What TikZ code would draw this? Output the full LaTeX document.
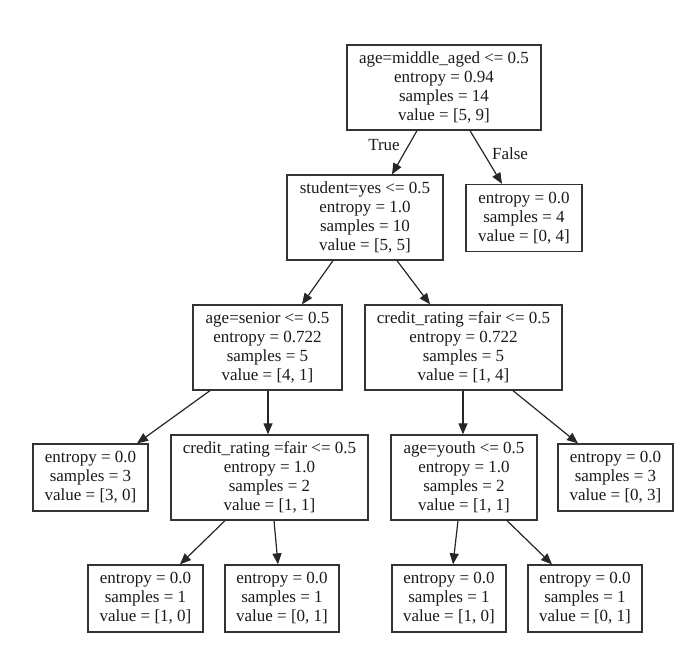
\documentclass[tikz,border=0pt]{standalone}
\usepackage{fontspec}
\setmainfont{Liberation Serif}
\usetikzlibrary{arrows.meta}
\tikzset{
  tbox/.style={draw=black!80, line width=1.3pt, rectangle, inner sep=0pt, align=center,
    font=\fontsize{17}{19}\selectfont, text=black!90},
  inner4/.style={tbox, minimum height=85pt},
  leaf3/.style={tbox, minimum height=67pt},
  edge/.style={draw=black!85, line width=1.2pt, -{Triangle[length=11pt,width=9pt]}},
  elabel/.style={font=\fontsize{17}{19}\selectfont, text=black!90}
}
\begin{document}
\begin{tikzpicture}[x=1pt,y=-1pt]
\useasboundingbox (0,0) rectangle (695,655);
\node[inner4, minimum width=194pt] (root) at (444,87.5) {age=middle\_aged <= 0.5\\entropy = 0.94\\samples = 14\\value = [5, 9]};
\node[inner4, minimum width=156pt] (student) at (365,217.5) {student=yes <= 0.5\\entropy = 1.0\\samples = 10\\value = [5, 5]};
\node[leaf3, minimum width=116pt] (lf) at (524,218) {entropy = 0.0\\samples = 4\\value = [0, 4]};
\node[inner4, minimum width=149pt] (senior) at (267.5,347.5) {age=senior <= 0.5\\entropy = 0.722\\samples = 5\\value = [4, 1]};
\node[inner4, minimum width=197pt] (credA) at (463.5,347.5) {credit\_rating =fair <= 0.5\\entropy = 0.722\\samples = 5\\value = [1, 4]};
\node[leaf3, minimum width=115pt] (l30) at (90.5,477.5) {entropy = 0.0\\samples = 3\\value = [3, 0]};
\node[inner4, minimum width=197pt] (credB) at (269.5,477.5) {credit\_rating =fair <= 0.5\\entropy = 1.0\\samples = 2\\value = [1, 1]};
\node[inner4, minimum width=146pt] (youth) at (464,477.5) {age=youth <= 0.5\\entropy = 1.0\\samples = 2\\value = [1, 1]};
\node[leaf3, minimum width=115pt] (l03) at (615.5,477.5) {entropy = 0.0\\samples = 3\\value = [0, 3]};
\node[leaf3, minimum width=115pt] (b1) at (145.5,598.5) {entropy = 0.0\\samples = 1\\value = [1, 0]};
\node[leaf3, minimum width=114pt] (b2) at (282,598.5) {entropy = 0.0\\samples = 1\\value = [0, 1]};
\node[leaf3, minimum width=114pt] (b3) at (449,598.5) {entropy = 0.0\\samples = 1\\value = [1, 0]};
\node[leaf3, minimum width=114pt] (b4) at (585,598.5) {entropy = 0.0\\samples = 1\\value = [0, 1]};

\draw[edge] ([xshift=-27pt]root.south) -- ([xshift=27pt]student.north);
\draw[edge] ([xshift=26pt]root.south) -- ([xshift=-22pt]lf.north);
\draw[edge] ([xshift=-32pt]student.south) -- ([xshift=34.5pt]senior.north);
\draw[edge] ([xshift=32pt]student.south) -- ([xshift=-33.5pt]credA.north);
\draw[edge] ([xshift=-57.5pt]senior.south) -- ([xshift=46.5pt]l30.north);
\draw[edge] ([xshift=0.5pt]senior.south) -- ([xshift=-1.5pt]credB.north);
\draw[edge] ([xshift=-0.5pt]credA.south) -- ([xshift=-1pt]youth.north);
\draw[edge] ([xshift=49.5pt]credA.south) -- ([xshift=-37.5pt]l03.north);
\draw[edge] ([xshift=-44.5pt]credB.south) -- ([xshift=34.5pt]b1.north);
\draw[edge] ([xshift=4.5pt]credB.south) -- ([xshift=-4pt]b2.north);
\draw[edge] ([xshift=-6pt]youth.south) -- ([xshift=4pt]b3.north);
\draw[edge] ([xshift=43pt]youth.south) -- ([xshift=-33pt]b4.north);

\node[elabel] (tlab) at (384,145) {True};
\node[elabel] (flab) at (510,154) {False};
\end{tikzpicture}
\end{document}
